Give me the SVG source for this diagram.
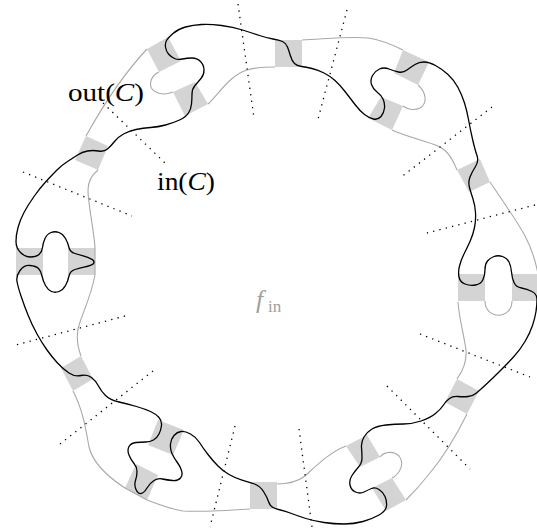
<svg xmlns="http://www.w3.org/2000/svg" width="537" height="529" viewBox="0 0 537 529">
<style>
.cell{fill:#d4d4d4;stroke:none}
.gray{fill:none;stroke:#a9a9a9;stroke-width:1.1}
.blk{fill:none;stroke:#000;stroke-width:1.3;stroke-linejoin:round}
.dot{stroke:#000;stroke-width:1.3;stroke-dasharray:1.3 5.2;fill:none}
.lbl{font-family:"Liberation Serif","Times New Roman",serif;font-size:26px;fill:#000}
.fin{font-family:"Liberation Serif","Times New Roman",serif;fill:#a0a0a0}
</style>
<rect width="537" height="529" fill="#fff"/>
<g id="cells">
<polygon class="cell" points="275,40 302,40 302,67 275,67"/>
<polygon class="cell" points="147,49 168,37 181,61 159,72"/>
<polygon class="cell" points="173,92 195,82 208,104 185,116"/>
<polygon class="cell" points="403,50 429,62 418,85 394,73"/>
<polygon class="cell" points="381,97 403,106 392,130 368,118"/>
<polygon class="cell" points="457,170 480,159 490,182 469,192"/>
<polygon class="cell" points="458,274 485,274 485,301 458,301"/>
<polygon class="cell" points="512,274 537,274 537,301 512,301"/>
<polygon class="cell" points="457,379 479,391 467,414 445,402"/>
<polygon class="cell" points="346,446 367,435 380,457 360,467"/>
<polygon class="cell" points="372,488 392,478 406,500 386,511"/>
<polygon class="cell" points="250,482 277,482 277,509 250,509"/>
<polygon class="cell" points="158,420 184,430 173,455 148,445"/>
<polygon class="cell" points="136,464 158,475 147,500 125,488"/>
<polygon class="cell" points="61,368 81,356 93,379 73,391"/>
<polygon class="cell" points="16,248 43,248 43,275 16,275"/>
<polygon class="cell" points="68,248 95,248 95,275 68,275"/>
<polygon class="cell" points="86,136 108,146 98,170 75,160"/>
</g>
<g id="connectors">
<path id="gray-curve" class="gray" d="M302,40 C325,39 350,36 368,38 C382,40 393,45 403,50 M418,85 C426,92 428,103 420,108 C414,111 407,109 403,106 M392,130 C405,136 425,141 438,146 C448,150 453,160 457,170 M490,182 C500,197 515,218 524,234 C530,245 535,258 538,274 M512,301 C512,320 485,320 485,301 M458,302 C459,318 464,335 466,350 C467,362 462,372 457,379 M467,414 C460,428 445,455 430,473 C422,483 414,492 406,500 M392,478 C400,474 405,463 399,456 C394,451 385,451 380,457 M346,446 C330,452 316,466 305,476 C297,482 288,484 277,484 M250,509 C235,510 200,512 183,511 C170,509 158,504 147,500 L125,488 C108,477 93,463 89,447 C86,430 83,410 73,391 M81,356 C77,345 76,332 80,322 C85,308 92,292 95,275 L95,248 C94,230 88,205 88,190 C88,180 93,174 98,170 M86,136 C96,118 118,80 147,49 M159,72 C150,76 147,88 156,92 C161,95 168,94 173,92 M208,104 C218,95 230,75 247,70 C257,67 266,67 275,67"/>
<path id="black-curve" class="blk" d="M166.5,40.5 Q168,38 173,33.5 Q178,29 185.5,27 Q193,25 201.5,24.5 Q210,24 221.5,25.5 Q233,27 242.5,30 Q252,33 259.5,35.5 Q267,38 273,39 Q279,40 282.5,41.5 Q286,43 287.5,47 Q289,51 290.5,56 Q292,61 294.5,63.5 Q297,66 301.5,66.5 Q306,67 312,68.5 Q318,70 324,73 Q330,76 335,80.5 Q340,85 345,91.5 Q350,98 355,104.5 Q360,111 364.5,114.5 Q369,118 373.5,119 Q378,120 381,116.5 Q384,113 384.5,108 Q385,103 383,99 Q381,95 377,92 Q373,89 371.5,84.5 Q370,80 372.5,75.5 Q375,71 379.5,69 Q384,67 389,69 Q394,71 398.5,72 Q403,73 407,70 Q411,67 415,64.5 Q419,62 424,62 Q429,62 435.5,65.5 Q442,69 448,74.5 Q454,80 458,87.5 Q462,95 464.5,103 Q467,111 468.5,119.5 Q470,128 472.5,139 Q475,150 477,155.5 Q479,161 475.5,166.5 Q472,172 470,177 Q468,182 469.5,187.5 Q471,193 473,199 Q475,205 475.5,212.5 Q476,220 474.5,227.5 Q473,235 470,241.5 Q467,248 464,254 Q461,260 459.5,266 Q458,272 459,277 Q460,282 465,284 Q470,286 475.5,285 Q481,284 483,279.5 Q485,275 485,269.5 Q485,264 487.5,261 Q490,258 494,256.5 Q498,255 502.5,256.5 Q507,258 509,262 Q511,266 511.5,272 Q512,278 514,282.5 Q516,287 521.5,288 Q527,289 532,291.5 Q537,294 537,299.5 Q537,305 536,311.5 Q535,318 532.5,325.5 Q530,333 525,341.5 Q520,350 513.5,357 Q507,364 500,371 Q493,378 486.5,384 Q480,390 476.5,393 Q473,396 468,396.5 Q463,397 458,396.5 Q453,396 449.5,398.5 Q446,401 443.5,405 Q441,409 435.5,413.5 Q430,418 421,421 Q412,424 403.5,424 Q395,424 386,425 Q377,426 372,429 Q367,432 364,437 Q361,442 361.5,447.5 Q362,453 362,458 Q362,463 358.5,467 Q355,471 352,475.5 Q349,480 350,485 Q351,490 355.5,492 Q360,494 364,492 Q368,490 371.5,488.5 Q375,487 379,489.5 Q383,492 385,496.5 Q387,501 386.5,506 Q386,511 379,515 Q372,519 363,521.5 Q354,524 344,524 Q334,524 324,522.5 Q314,521 306,518.5 Q298,516 291.5,513.5 Q285,511 280.5,510 Q276,509 273,507.5 Q270,506 268.5,501.5 Q267,497 263.5,491.5 Q260,486 254.5,484 Q249,482 242,480 Q235,478 229,474.5 Q223,471 218,466 Q213,461 208,454.5 Q203,448 199.5,442.5 Q196,437 190.5,434 Q185,431 181,431.5 Q177,432 174,435.5 Q171,439 170.5,444 Q170,449 172,453.5 Q174,458 177,462 Q180,466 181.5,470.5 Q183,475 180.5,478 Q178,481 172.5,480.5 Q167,480 162.5,479 Q158,478 154,480.5 Q150,483 147,488 Q144,493 141,493.5 Q138,494 136,489.5 Q134,485 135.5,480.5 Q137,476 137,471.5 Q137,467 134,463.5 Q131,460 129,455 Q127,450 129,446.5 Q131,443 136,442.5 Q141,442 145.5,442 Q150,442 153.5,440 Q157,438 159,434 Q161,430 161.5,425.5 Q162,421 159,417.5 Q156,414 150.5,411.5 Q145,409 136.5,406.5 Q128,404 119,402 Q110,400 105.5,395.5 Q101,391 98.5,386 Q96,381 91.5,377.5 Q87,374 81,375.5 Q75,377 69,373 Q63,369 57.5,363 Q52,357 47,350 Q42,343 37,334 Q32,325 28,315 Q24,305 21,296 Q18,287 17,281.5 Q16,276 20,270.5 Q24,265 30,265.5 Q36,266 38.5,268.5 Q41,271 42,276 Q43,281 45.5,285.5 Q48,290 51.5,291.5 Q55,293 59,291.5 Q63,290 65.5,285.5 Q68,281 69,276 Q70,271 75,269.5 Q80,268 84,267.2 Q88,266.5 91,265.2 Q94,264 94,262 Q94,260 91,258.8 Q88,257.5 84,256.2 Q80,255 75,253.5 Q70,252 69,247.5 Q68,243 65.5,238.5 Q63,234 59,232.5 Q55,231 51,232.5 Q47,234 45,238.5 Q43,243 42.5,247.5 Q42,252 39,254.5 Q36,257 30.5,257 Q25,257 20.5,252.5 Q16,248 16,241.5 Q16,235 18,227.5 Q20,220 24,212.5 Q28,205 34,196.5 Q40,188 46,181.5 Q52,175 57,170 Q62,165 67.5,161.5 Q73,158 77.5,155 Q82,152 87.5,151 Q93,150 98.5,151 Q104,152 107.5,149 Q111,146 114.5,141.5 Q118,137 123.5,134 Q129,131 136,129.5 Q143,128 150.5,127.5 Q158,127 165.5,125 Q173,123 179.5,120 Q186,117 188.5,113 Q191,109 191.5,104 Q192,99 192,94 Q192,89 195,85.5 Q198,82 201,78.5 Q204,75 204,70 Q204,65 200.5,61.5 Q197,58 192,58 Q187,58 182.5,59 Q178,60 174.5,58.5 Q171,57 168.5,54 Q166,51 165.5,47 Q165,43 166.5,40.5 Z"/>
<g id="cuts">
<line class="dot" x1="238" y1="4" x2="254" y2="118"/>
<line class="dot" x1="347" y1="10" x2="317" y2="123"/>
<line class="dot" x1="492" y1="107" x2="400" y2="178"/>
<line class="dot" x1="535" y1="205" x2="427" y2="233"/>
<line class="dot" x1="420" y1="334" x2="530" y2="377"/>
<line class="dot" x1="387" y1="386" x2="470" y2="469"/>
<line class="dot" x1="299" y1="429" x2="312" y2="527"/>
<line class="dot" x1="235" y1="426" x2="210" y2="527"/>
<line class="dot" x1="153" y1="371" x2="60" y2="444"/>
<line class="dot" x1="125" y1="316" x2="12" y2="346"/>
<line class="dot" x1="23" y1="172" x2="132" y2="216"/>
<line class="dot" x1="103" y1="103" x2="165" y2="163"/>
</g>
</g>
<g id="labels">
<text class="lbl" x="68" y="101" textLength="76" lengthAdjust="spacingAndGlyphs">out(<tspan font-style="italic">C</tspan>)</text>
<text class="lbl" x="157" y="190" textLength="58" lengthAdjust="spacingAndGlyphs">in(<tspan font-style="italic">C</tspan>)</text>
<text class="fin" x="256" y="308" font-size="26" font-style="italic">f</text>
<text class="fin" x="268" y="312" font-size="17">in</text>
</g>
</svg>
